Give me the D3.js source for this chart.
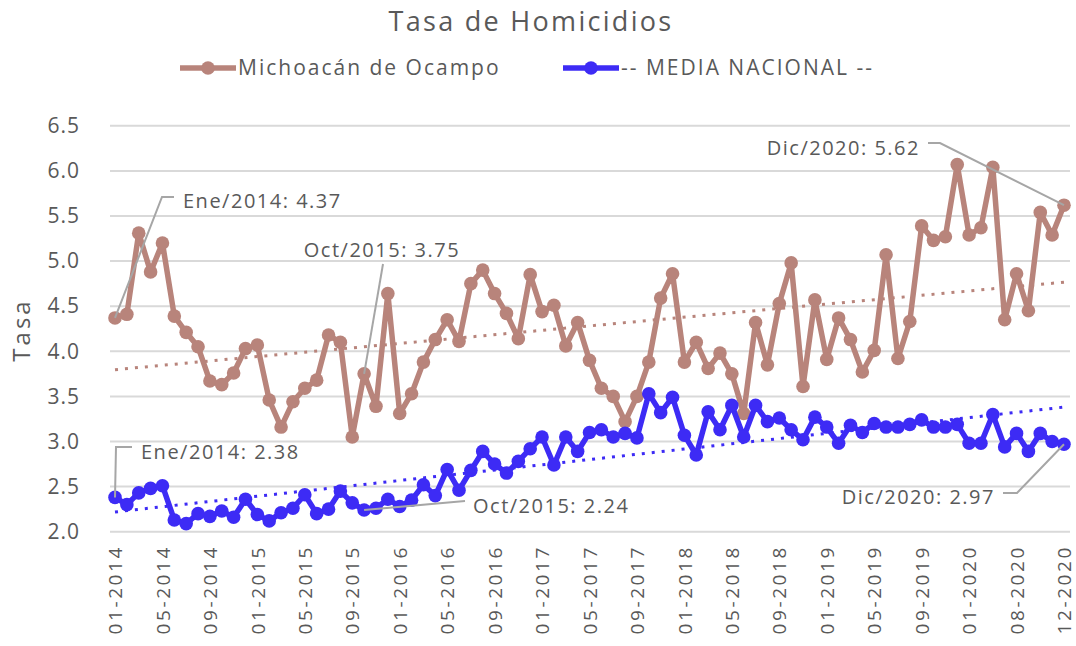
<!DOCTYPE html>
<html>
<head>
<meta charset="utf-8">
<script src="https://cdn.jsdelivr.net/npm/d3@7"></script>
<style>
  body { margin: 0; background: #fff; }
  text { font-family: "Open Sans", sans-serif; fill: #595959; }
</style>
</head>
<body>
<div id="chart"></div>
<script>
// months shown on the x axis (2020 has gaps in the source)
var meses = [];
[2014, 2015, 2016, 2017, 2018, 2019].forEach(function(y){
  for (var m = 1; m <= 12; m++) meses.push((m < 10 ? "0" + m : "" + m) + "-" + y);
});
var meses2020 = ["01-2020", "02-2020", "03-2020", "04-2020", "08-2020", "09-2020", "10-2020", "11-2020", "12-2020"];
meses = meses.concat(meses2020);

var michoacan = [4.37, 4.41, 5.31, 4.88, 5.20, 4.39, 4.21, 4.05, 3.67, 3.63, 3.76, 4.03,
  4.07, 3.46, 3.16, 3.44, 3.59, 3.68, 4.18, 4.10, 3.05, 3.75, 3.39, 4.64,
  3.31, 3.53, 3.88, 4.13, 4.35, 4.11, 4.75, 4.90, 4.64, 4.42, 4.14, 4.85,
  4.44, 4.51, 4.06, 4.32, 3.90, 3.59, 3.50, 3.22, 3.50, 3.88, 4.59, 4.86,
  3.88, 4.10, 3.81, 3.98, 3.75, 3.31, 4.32, 3.85, 4.53, 4.98, 3.61, 4.57,
  3.91, 4.37, 4.13, 3.77, 4.01, 5.07, 3.92, 4.33, 5.39, 5.23, 5.27, 6.07,
  5.29, 5.37, 6.04, 4.35, 4.86, 4.45, 5.54, 5.29, 5.62];

var nacional = [2.38, 2.30, 2.43, 2.48, 2.51, 2.13, 2.09, 2.20, 2.17, 2.23, 2.16, 2.36,
  2.19, 2.12, 2.21, 2.26, 2.41, 2.20, 2.25, 2.45, 2.32, 2.24, 2.26, 2.36,
  2.28, 2.35, 2.52, 2.40, 2.69, 2.46, 2.68, 2.89, 2.75, 2.65, 2.78, 2.92,
  3.05, 2.74, 3.05, 2.89, 3.10, 3.13, 3.05, 3.09, 3.04, 3.53, 3.32, 3.49,
  3.07, 2.85, 3.33, 3.13, 3.40, 3.05, 3.40, 3.22, 3.26, 3.13, 3.02, 3.27,
  3.16, 2.98, 3.18, 3.10, 3.20, 3.16, 3.16, 3.19, 3.24, 3.16, 3.16, 3.19,
  2.98, 2.98, 3.30, 2.94, 3.09, 2.89, 3.09, 3.00, 2.97];

var yTicks = [2.0, 2.5, 3.0, 3.5, 4.0, 4.5, 5.0, 5.5, 6.0, 6.5];
var xTickLabels = meses.filter(function(d, i){ return i % 4 === 0; });

var colorMich = "#b8847b";
var colorNac = "#3d2bf5";

var width = 1076, height = 646;

var svg = d3.select("#chart").append("svg")
    .attr("width", width)
    .attr("height", height);

var x = d3.scalePoint().domain(meses).range([115, 1064]);
var y = d3.scaleLinear().domain([2, 6.5]).range([531.7, 125.8]);

// title
svg.append("text")
    .attr("x", 531).attr("y", 22)
    .attr("dy", "0.35em")
    .attr("text-anchor", "middle")
    .style("font-size", "27px")
    .style("font-weight", "500")
    .style("letter-spacing", "2.3px")
    .text("Tasa de Homicidios");

// gridlines
svg.append("g").selectAll("line")
    .data(yTicks)
  .enter().append("line")
    .attr("x1", 110).attr("x2", 1070)
    .attr("y1", function(d){ return y(d); })
    .attr("y2", function(d){ return y(d); })
    .attr("stroke", "#d9d9d9")
    .attr("stroke-width", 2);

// y axis labels
var yAxis = d3.axisLeft(y).tickValues(yTicks).tickFormat(d3.format(".1f")).tickSize(0).tickPadding(0);
svg.append("g")
    .attr("transform", "translate(80,0)")
    .call(yAxis)
    .call(function(g){ g.select(".domain").remove(); })
    .selectAll("text")
    .style("font-size", "21px")
    .style("letter-spacing", "1px")
    .style("fill", "#595959")
    .style("font-family", "'Open Sans', sans-serif");

svg.append("text")
    .attr("transform", "translate(22,330)rotate(-90)")
    .attr("text-anchor", "middle")
    .attr("dy", "0.35em")
    .style("font-size", "24px")
    .style("letter-spacing", "3px")
    .text("Tasa");

// x axis labels
var xAxis = d3.axisBottom(x).tickValues(xTickLabels).tickSize(0).tickPadding(0);
svg.append("g")
    .attr("transform", "translate(0,545)")
    .call(xAxis)
    .call(function(g){ g.select(".domain").remove(); })
    .selectAll("text")
    .attr("transform", "rotate(-90)")
    .attr("text-anchor", "end")
    .attr("x", 0).attr("y", 0)
    .attr("dy", "0.35em")
    .style("font-size", "19px")
    .style("letter-spacing", "2.6px")
    .style("fill", "#595959")
    .style("font-family", "'Open Sans', sans-serif");

// linear trend (least squares over month index)
function trend(vals){
  var n = vals.length, sx = 0, sy = 0, sxx = 0, sxy = 0;
  vals.forEach(function(v, i){ sx += i; sy += v; sxx += i * i; sxy += i * v; });
  var b = (n * sxy - sx * sy) / (n * sxx - sx * sx);
  var a = (sy - b * sx) / n;
  return [a, a + b * (n - 1)];
}

var series = [
  { name: "Michoacán de Ocampo", values: michoacan, color: colorMich },
  { name: "-- MEDIA NACIONAL --", values: nacional, color: colorNac }
];

series.forEach(function(s){
  var t = trend(s.values);
  svg.append("line")
      .attr("x1", x(meses[0])).attr("x2", x(meses[meses.length - 1]))
      .attr("y1", y(t[0])).attr("y2", y(t[1]))
      .attr("stroke", s.color)
      .attr("stroke-width", 3)
      .attr("stroke-dasharray", "3,7");
});

var line = d3.line()
    .x(function(d, i){ return x(meses[i]); })
    .y(function(d){ return y(d); });

series.forEach(function(s){
  var g = svg.append("g");
  g.append("path")
      .datum(s.values)
      .attr("d", line)
      .attr("fill", "none")
      .attr("stroke", s.color)
      .attr("stroke-width", 5.5)
      .attr("stroke-linejoin", "round");
  g.selectAll("circle")
      .data(s.values)
    .enter().append("circle")
      .attr("cx", function(d, i){ return x(meses[i]); })
      .attr("cy", function(d){ return y(d); })
      .attr("r", 6.8)
      .attr("fill", s.color);
});

// annotations: [series, index, label, label x, label y, anchor, leader points after the data point]
var notas = [
  [michoacan, 0, "Ene/2014: 4.37", 183, 201, "start", [[162, 197], [174, 197]]],
  [michoacan, 21, "Oct/2015: 3.75", 382, 250, "middle", [[383, 264]]],
  [michoacan, 80, "Dic/2020: 5.62", 920, 148, "end", [[940, 143], [928, 143]]],
  [nacional, 0, "Ene/2014: 2.38", 141, 452, "start", [[116, 447], [132, 447]]],
  [nacional, 21, "Oct/2015: 2.24", 473, 506, "start", [[465, 501]]],
  [nacional, 80, "Dic/2020: 2.97", 995, 497, "end", [[1017, 493], [1003, 493]]]
];

notas.forEach(function(n){
  var pts = [[x(meses[n[1]]), y(n[0][n[1]])]].concat(n[6]);
  svg.append("path")
      .attr("d", d3.line()(pts))
      .attr("fill", "none")
      .attr("stroke", "#a6a6a6")
      .attr("stroke-width", 2);
  svg.append("text")
      .attr("x", n[3]).attr("y", n[4])
      .attr("dy", "0.35em")
      .attr("text-anchor", n[5])
      .style("font-size", "20px")
      .style("letter-spacing", "1.5px")
      .text(n[2]);
});

// legend
var legend = [
  { name: series[0].name, color: colorMich, x: 180 },
  { name: series[1].name, color: colorNac, x: 563 }
];
legend.forEach(function(l){
  var g = svg.append("g").attr("transform", "translate(" + l.x + ",68)");
  g.append("line").attr("x1", 0).attr("x2", 56).attr("y1", 0).attr("y2", 0)
      .attr("stroke", l.color).attr("stroke-width", 5.5);
  g.append("circle").attr("cx", 28).attr("cy", 0).attr("r", 6.8).attr("fill", l.color);
  g.append("text").attr("x", 58).attr("y", 0).attr("dy", "0.35em")
      .style("font-size", "21px")
      .style("letter-spacing", "2px")
      .text(l.name);
});
</script>
</body>
</html>
